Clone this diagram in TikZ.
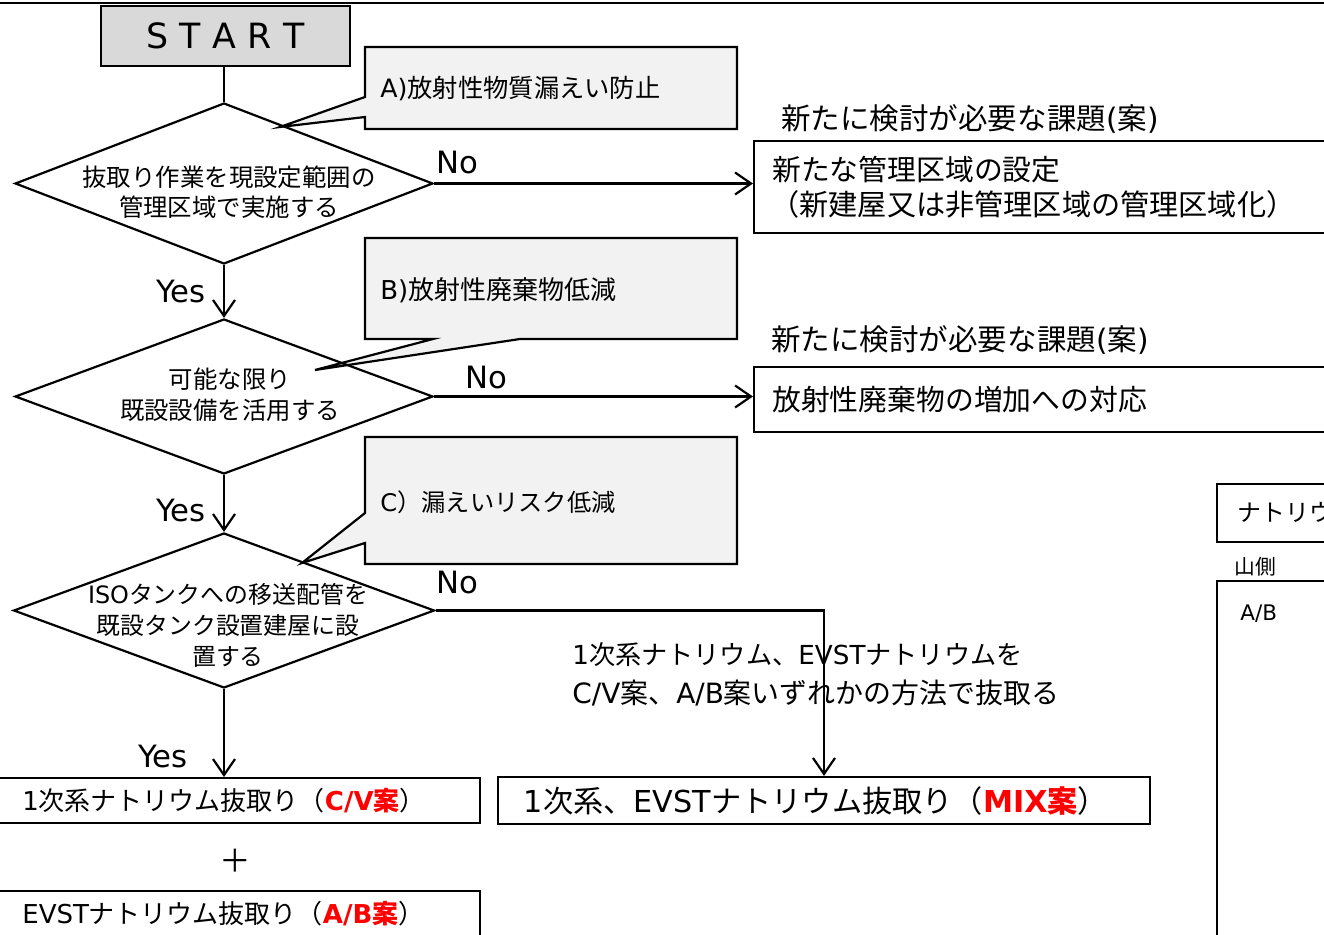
\documentclass[tikz,border=0pt]{standalone}
\usepackage{fontspec}
\usetikzlibrary{shapes.geometric,arrows.meta}
\newfontfamily\jp{Noto Sans CJK JP}
\newfontfamily\vd{DejaVu Sans}
\newcommand\pfs[2]{\fontsize{#1pt}{#2pt}\selectfont}
\definecolor{startgray}{HTML}{D9D9D9}
\definecolor{callgray}{HTML}{F2F2F2}
\definecolor{hlred}{HTML}{FF0000}
\newcommand\hl[1]{\textcolor{hlred}{\bfseries #1}}
\tikzset{
  box/.style={draw, rectangle, line width=1.25pt, inner sep=0pt, anchor=north west},
  dia/.style={draw, diamond, line width=1.25pt, inner sep=0pt},
  call/.style={draw, line width=1.25pt, fill=callgray, line join=miter},
  arr/.style={line width=1.25pt, -{Straight Barb[length=3.2mm,width=4.4mm]}},
  conn/.style={line width=1.25pt},
  txt/.style={inner sep=0pt, anchor=west},
  dtxt/.style={inner sep=0pt, align=center},
  lbl/.style={inner sep=0pt, font=\vd\pfs{17.5}{20}},
}
\begin{document}
\begin{tikzpicture}[x=0.02cm,y=-0.02cm]
\useasboundingbox (0,0) rectangle (1324,935);
\clip (0,0) rectangle (1324,935);
\draw[line width=1.3pt] (0,3) -- (1324,3);

% START
\node[box, fill=startgray, minimum width=4.98cm, minimum height=1.2cm] (start) at (100,5) {};
\node[inner sep=0pt] (starttxt) at (start.center) {\vd\pfs{19.8}{22}S\hspace{.33em}T\hspace{.33em}A\hspace{.33em}R\hspace{.33em}T};

% callouts
\draw[call] (365,47) -- (737,47) -- (737,129) -- (365,129) -- (365,117) -- (280,127) -- (365,97) -- cycle;
\node[txt] (ca) at (380,89) {\jp\pfs{14.4}{17}\vd A)\jp 放射性物質漏えい防止};
\draw[call] (365,238) -- (737,238) -- (737,339) -- (520,339) -- (315,370) -- (433,339) -- (365,339) -- cycle;
\node[txt] (cb) at (380,290) {\jp\pfs{14.8}{17}\vd B)\jp 放射性廃棄物低減};
\draw[call] (365,437) -- (737,437) -- (737,564) -- (365,564) -- (365,543) -- (302,563) -- (365,513) -- cycle;
\node[txt] (cc) at (380,502) {\jp\pfs{13.8}{17}\vd C\jp ）漏えいリスク低減};

% diamonds
\node[dia, minimum width=8.36cm, minimum height=3.22cm] (d1) at (224,183.5) {};
\node[dtxt, font=\jp\pfs{13.9}{17}] (d1t) at (229,192) {抜取り作業を現設定範囲の\\管理区域で実施する};
\node[dia, minimum width=8.36cm, minimum height=3.1cm] (d2) at (224,396.5) {};
\node[dtxt, font=\jp\pfs{13.9}{17.6}] (d2t) at (230,394.5) {可能な限り\\既設設備を活用する};
\node[dia, minimum width=8.42cm, minimum height=3.1cm] (d3) at (224,610.5) {};
\node[dtxt, font=\jp\pfs{13.6}{17.6}] (d3t) at (228,625) {{\vd ISO}タンクへの移送配管を\\既設タンク設置建屋に設\\置する};

% right boxes
\node[txt] (t1) at (781,119) {\jp\pfs{16.8}{19}新たに検討が必要な課題\vd(\jp 案\vd)};
\node[box, minimum width=11.8cm, minimum height=1.84cm] (b1) at (753,140) {};
\node[txt] (b1a) at (772,170) {\jp\pfs{16.4}{19}新たな管理区域の設定};
\node[txt] (b1b) at (770,204) {\jp\pfs{16.6}{19}（新建屋又は非管理区域の管理区域化）};
\node[txt] (t2) at (771,340) {\jp\pfs{16.8}{19}新たに検討が必要な課題\vd(\jp 案\vd)};
\node[box, minimum width=11.8cm, minimum height=1.3cm] (b2) at (753,366) {};
\node[txt] (b2a) at (772,400) {\jp\pfs{16.4}{19}放射性廃棄物の増加への対応};

% bottom boxes
\node[box, minimum width=9.68cm, minimum height=0.9cm] (cv) at (-5,777) {};
\node[txt] (cvt) at (22,801) {\jp\pfs{14.8}{17}\vd 1\jp 次系ナトリウム抜取り（\hl{\vd C/V\jp 案}）};
\node[inner sep=0pt] (plus) at (235,861) {\jp\pfs{18}{20}＋};
\node[box, minimum width=9.68cm, minimum height=1.3cm] (ab) at (-5,890) {};
\node[txt] (abt) at (22,914) {\jp\pfs{14.8}{17}\vd EVST\jp ナトリウム抜取り（\hl{\vd A/B\jp 案}）};
\node[draw, rectangle, line width=1.25pt, inner sep=0pt, minimum width=13.04cm, minimum height=0.94cm] (mix) at (824,800.5) {};
\node[inner sep=0pt] (mixt) at (816,801) {\jp\pfs{17.2}{19}\vd 1\jp 次系、\vd EVST\jp ナトリウム抜取り（\hl{\vd MIX\jp 案}）};
\node[txt] (note1) at (572,655) {\jp\pfs{14.9}{17}\vd 1\jp 次系ナトリウム、\vd EVST\jp ナトリウムを};
\node[txt] (note2) at (572,693) {\jp\pfs{15.9}{17}\vd C/V\jp 案、\vd A/B\jp 案いずれかの方法で抜取る};

% far right
\node[box, minimum width=2.6cm, minimum height=1.16cm] (nb) at (1216,483) {};
\node[txt] (nbt) at (1237,512) {\jp\pfs{13.6}{16}ナトリウム};
\node[txt] (yama) at (1234,567) {\jp\pfs{11.8}{14}山側};
\node[box, minimum width=2.6cm, minimum height=7.6cm] (ab2) at (1216,580) {};
\node[txt] (ab2t) at (1240,614) {\vd\pfs{12.2}{14}A/B};

% connectors
\draw[conn] (d1.north |- start.south) -- (d1.north);
\draw[arr] (d1.east) -- (d1.east -| b1.west);
\draw[arr] (d1.south) -- (d2.north);
\draw[arr] (d2.east) -- (d2.east -| b2.west);
\draw[arr] (d2.south) -- (d3.north);
\draw[arr] (d3.east) -| (mix.north);
\draw[arr] (d3.south) -- (d3.south |- cv.north);

% labels
\node[lbl] (no1) at (457,163) {No};
\node[lbl] (no2) at (486,378) {No};
\node[lbl] (no3) at (457,583) {No};
\node[lbl] (yes1) at (181,292) {Yes};
\node[lbl] (yes2) at (181,511) {Yes};
\node[lbl] (yes3) at (163,757) {Yes};
\end{tikzpicture}
\end{document}
